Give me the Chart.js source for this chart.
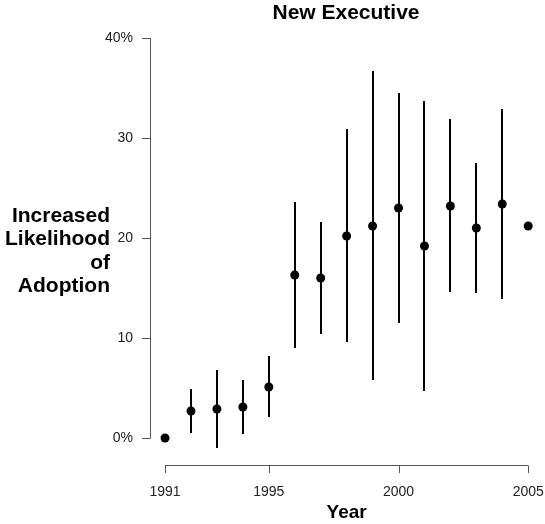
<!DOCTYPE html>
<html>
<head>
<meta charset="utf-8">
<script src="https://cdn.jsdelivr.net/npm/chart.js@4"></script>
<style>
html,body{margin:0;padding:0;background:#fff;}
#wrap{width:545px;height:524px;position:relative;}
</style>
</head>
<body>
<div id="wrap"><canvas id="c" width="545" height="524"></canvas></div>
<script>
const years = [1991,1992,1993,1994,1995,1996,1997,1998,1999,2000,2001,2002,2003,2004,2005];
const estimate = [0,2.7,2.9,3.1,5.1,16.3,16.0,20.2,21.2,23.0,19.2,23.2,21.0,23.4,21.2];
const lower = [null,0.5,-1.0,0.4,2.1,9.0,10.4,9.6,5.8,11.5,4.7,14.6,14.5,13.9,null];
const upper = [null,4.9,6.8,5.8,8.2,23.6,21.6,30.9,36.7,34.5,33.7,31.9,27.5,32.9,null];
const yTicks = [0,10,20,30,40];
const yTickLabels = ['0%','10','20','30','40%'];
const xTicks = [1991,1995,2000,2005];
const xTickLabels = ['1991','1995','2000','2005'];
const titleText = 'New Executive';
const xTitle = 'Year';
const yTitleLines = ['Increased','Likelihood','of','Adoption'];

const FONT = '"Liberation Sans", Arial, Helvetica, sans-serif';

const points = years.map((y,i)=>({x:y,y:estimate[i]}));

const axesPlugin = {
  id:'rAxes',
  beforeDatasetsDraw(chart){
    const ctx = chart.ctx, xs = chart.scales.x, ys = chart.scales.y;
    ctx.save();
    ctx.strokeStyle = '#000';
    ctx.lineWidth = 2;
    ctx.lineCap = 'butt';
    for(let i=0;i<years.length;i++){
      if(lower[i]==null||upper[i]==null) continue;
      const px = Math.round(xs.getPixelForValue(years[i]));
      ctx.beginPath();
      ctx.moveTo(px, ys.getPixelForValue(lower[i]));
      ctx.lineTo(px, ys.getPixelForValue(upper[i]));
      ctx.stroke();
    }
    ctx.restore();
  },
  afterDraw(chart){
    const ctx = chart.ctx, xs = chart.scales.x, ys = chart.scales.y;
    ctx.save();
    ctx.strokeStyle = '#555';
    ctx.lineWidth = 1;
    // y axis
    const ax = 150.5;
    ctx.beginPath();
    ctx.moveTo(ax, ys.getPixelForValue(yTicks[0]));
    ctx.lineTo(ax, ys.getPixelForValue(yTicks[yTicks.length-1]));
    yTicks.forEach(t=>{
      const py = Math.round(ys.getPixelForValue(t))+0.5;
      ctx.moveTo(ax, py); ctx.lineTo(142, py);
    });
    ctx.stroke();
    ctx.fillStyle = '#222';
    ctx.font = '14px ' + FONT;
    ctx.textAlign = 'right'; ctx.textBaseline = 'middle';
    yTicks.forEach((t,i)=>{
      ctx.fillText(yTickLabels[i], 133, ys.getPixelForValue(t));
    });
    // x axis
    const ay = 465.5;
    ctx.beginPath();
    ctx.moveTo(xs.getPixelForValue(xTicks[0]), ay);
    ctx.lineTo(xs.getPixelForValue(xTicks[xTicks.length-1]), ay);
    xTicks.forEach(t=>{
      const px = Math.round(xs.getPixelForValue(t))+0.5;
      ctx.moveTo(px, ay); ctx.lineTo(px, 473);
    });
    ctx.stroke();
    ctx.textAlign = 'center'; ctx.textBaseline = 'alphabetic';
    xTicks.forEach((t,i)=>{
      ctx.fillText(xTickLabels[i], xs.getPixelForValue(t), 496);
    });
    // titles
    ctx.fillStyle = '#000';
    ctx.font = 'bold 19px ' + FONT;
    ctx.fillText(xTitle, xs.getPixelForValue(1998), 518);
    ctx.font = 'bold 21px ' + FONT;
    ctx.fillText(titleText, 346, 19);
    ctx.textAlign = 'right';
    const base = [222,245,269,292];
    yTitleLines.forEach((l,i)=>ctx.fillText(l, 110, base[i]));
    ctx.restore();
  }
};

new Chart(document.getElementById('c'), {
  type:'scatter',
  data:{datasets:[{
    data: points,
    backgroundColor:'#000',
    borderColor:'#000',
    pointRadius:4.5,
    pointHoverRadius:4.5,
    borderWidth:0
  }]},
  options:{
    responsive:false,
    animation:false,
    devicePixelRatio:1,
    layout:{padding:{left:150,right:9,top:38,bottom:59}},
    plugins:{legend:{display:false},tooltip:{enabled:false},title:{display:false}},
    scales:{
      x:{type:'linear',min:1990.42,max:2005.3,display:false},
      y:{type:'linear',min:-2.7,max:40,display:false}
    }
  },
  plugins:[axesPlugin]
});
</script>
</body>
</html>
